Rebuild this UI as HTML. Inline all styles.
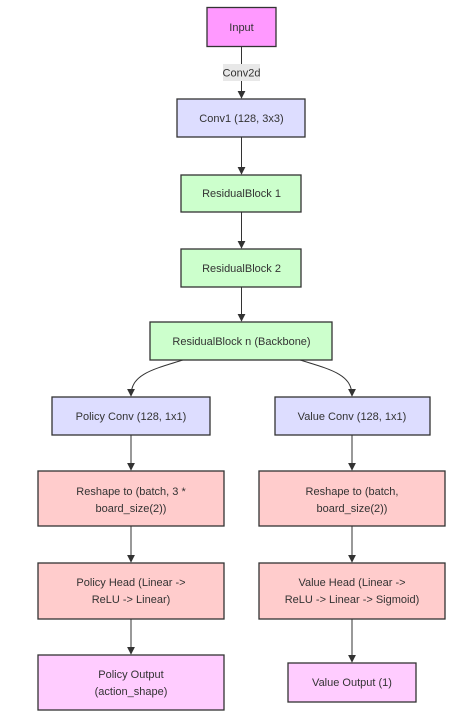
<!DOCTYPE html>
<html><head><meta charset="utf-8"><style>
body{margin:0;background:#fff;width:472px;height:712px;overflow:hidden}
svg text{font-family:"Trebuchet MS","Liberation Sans",sans-serif;font-size:11px;fill:#333;text-anchor:middle}
rect.n{stroke:#333;stroke-width:1.3}
path.e{stroke:#333;stroke-width:1;fill:none}
</style></head><body>
<svg width="472" height="712" viewBox="0 0 472 712" xmlns="http://www.w3.org/2000/svg">
<defs><marker id="a" viewBox="0 0 10 10" refX="9" refY="5" markerWidth="8" markerHeight="8" orient="auto"><path d="M0,0L10,5L0,10z" fill="#333"/></marker></defs>
<!-- edges -->
<path class="e" d="M241.5,46V98" marker-end="url(#a)"/>
<rect x="223" y="64" width="37" height="17" fill="#e8e8e8"/>
<text x="241.5" y="76.5">Conv2d</text>
<path class="e" d="M241.5,137V174" marker-end="url(#a)"/>
<path class="e" d="M241.5,212V248" marker-end="url(#a)"/>
<path class="e" d="M241.5,287V321" marker-end="url(#a)"/>
<path class="e" d="M183,360C150,370 131,375 131,396" marker-end="url(#a)"/>
<path class="e" d="M300,360C333,370 352,375 352,396" marker-end="url(#a)"/>
<path class="e" d="M131,435V470" marker-end="url(#a)"/>
<path class="e" d="M352,435V470" marker-end="url(#a)"/>
<path class="e" d="M131,526V562" marker-end="url(#a)"/>
<path class="e" d="M352,526V562" marker-end="url(#a)"/>
<path class="e" d="M131,619V654" marker-end="url(#a)"/>
<path class="e" d="M352,619V662" marker-end="url(#a)"/>
<!-- nodes -->
<rect class="n" x="207" y="7.5" width="69" height="39" fill="#ff99ff"/>
<text x="241.5" y="31">Input</text>
<rect class="n" x="177" y="99" width="128" height="38" fill="#ddddff"/>
<text x="241.5" y="122">Conv1 (128, 3x3)</text>
<rect class="n" x="181" y="175" width="120" height="37" fill="#ccffcc"/>
<text x="241.5" y="197">ResidualBlock 1</text>
<rect class="n" x="181" y="249" width="120" height="38" fill="#ccffcc"/>
<text x="241.5" y="272">ResidualBlock 2</text>
<rect class="n" x="150" y="322" width="182" height="38" fill="#ccffcc"/>
<text x="241.5" y="345">ResidualBlock n (Backbone)</text>
<rect class="n" x="52" y="397" width="158" height="38" fill="#ddddff"/>
<text x="131" y="420">Policy Conv (128, 1x1)</text>
<rect class="n" x="275" y="397" width="155" height="38" fill="#ddddff"/>
<text x="352" y="420">Value Conv (128, 1x1)</text>
<rect class="n" x="38" y="471" width="186" height="55" fill="#ffcccc"/>
<text x="131" y="495">Reshape to (batch, 3 *</text>
<text x="131" y="512">board_size(2))</text>
<rect class="n" x="259" y="471" width="186" height="55" fill="#ffcccc"/>
<text x="352" y="495">Reshape to (batch,</text>
<text x="352" y="512">board_size(2))</text>
<rect class="n" x="38" y="563" width="186" height="56" fill="#ffcccc"/>
<text x="131" y="586">Policy Head (Linear -&gt;</text>
<text x="131" y="603">ReLU -&gt; Linear)</text>
<rect class="n" x="259" y="563" width="186" height="56" fill="#ffcccc"/>
<text x="352" y="586">Value Head (Linear -&gt;</text>
<text x="352" y="603">ReLU -&gt; Linear -&gt; Sigmoid)</text>
<rect class="n" x="38" y="655" width="186" height="55" fill="#ffccff"/>
<text x="131" y="678">Policy Output</text>
<text x="131" y="695">(action_shape)</text>
<rect class="n" x="288" y="663" width="128" height="39" fill="#ffccff"/>
<text x="352" y="686">Value Output (1)</text>
</svg>
</body></html>
